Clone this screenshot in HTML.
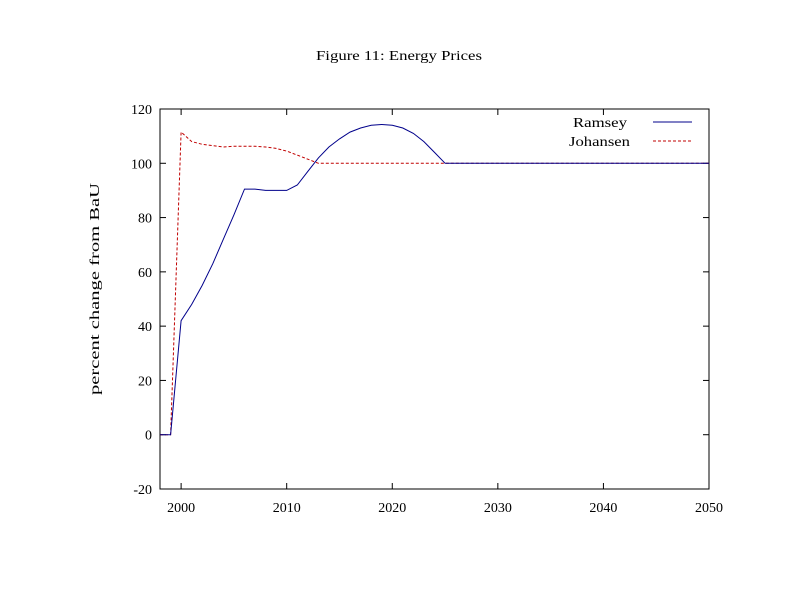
<!DOCTYPE html>
<html><head><meta charset="utf-8"><style>
body{margin:0;background:#fff}
svg{display:block;font-family:"Liberation Serif",serif;font-size:14px}
</style></head><body>
<svg width="800" height="600" id="c">
<text x="399" y="60" text-anchor="middle" textLength="166" lengthAdjust="spacingAndGlyphs">Figure 11: Energy Prices</text>
<text transform="translate(99,289) rotate(-90)" text-anchor="middle" textLength="212" lengthAdjust="spacingAndGlyphs">percent change from BaU</text>
<rect x="160" y="109" width="549" height="380" fill="none" stroke="#000"/>
<g id="ticks"></g>
<g id="series"></g>
<g>
<text x="573" y="127" textLength="54" lengthAdjust="spacingAndGlyphs">Ramsey</text>
<line x1="653" y1="122" x2="692" y2="122" stroke="#00008b"/>
<text x="569" y="146" textLength="61" lengthAdjust="spacingAndGlyphs">Johansen</text>
<line x1="653" y1="141" x2="692" y2="141" stroke="#c00000" stroke-dasharray="3,2"/>
</g>
</svg>
<script>
const years=[1998,1999,2000,2001,2002,2003,2004,2005,2006,2007,2008,2009,2010,2011,2012,2013,2014,2015,2016,2017,2018,2019,2020,2021,2022,2023,2024,2025,2030,2040,2050];
const ramsey=[0,0,42,48,55,63,72,81,90.5,90.5,90,90,90,92,97,102,106,109,111.5,113,114,114.3,114,113,111,108,104,100,100,100,100];
const johansen=[0,0,111.5,108,107,106.5,106,106.3,106.3,106.3,106,105.5,104.5,103,101.5,100,100,100,100,100,100,100,100,100,100,100,100,100,100,100,100];
const xTicks=[2000,2010,2020,2030,2040,2050];
const yTicks=[-20,0,20,40,60,80,100,120];
const NS='http://www.w3.org/2000/svg';
function X(v){return 160+(v-1998)*549/52;}
function Y(v){return 489-(v+20)*380/140;}
function mk(t,a,p){const e=document.createElementNS(NS,t);for(const k in a)e.setAttribute(k,a[k]);p.appendChild(e);return e;}
const tg=document.getElementById('ticks');
xTicks.forEach(v=>{const x=X(v);
const l1=mk('line',{x1:x,y1:489,x2:x,y2:483,stroke:'#000'},tg);


const l2=mk('line',{x1:x,y1:109,x2:x,y2:115,stroke:'#000'},tg);


const t=mk('text',{x:x,y:512,'text-anchor':'middle'},tg);t.textContent=v;


});
yTicks.forEach(v=>{const y=Y(v);
const l1=mk('line',{x1:160,y1:y,x2:166,y2:y,stroke:'#000'},tg);


const l2=mk('line',{x1:709,y1:y,x2:703,y2:y,stroke:'#000'},tg);


const t=mk('text',{x:152,y:y+5,'text-anchor':'end'},tg);t.textContent=v;


});
const sg=document.getElementById('series');
function pts(arr){return arr.map((v,i)=>X(years[i]).toFixed(1)+','+Y(v).toFixed(1)).join(' ');}
const pj=mk('polyline',{points:pts(johansen),fill:'none',stroke:'#c00000','stroke-dasharray':'3,2'},sg);


const pr=mk('polyline',{points:pts(ramsey),fill:'none',stroke:'#00008b'},sg);


</script>
</body></html>
